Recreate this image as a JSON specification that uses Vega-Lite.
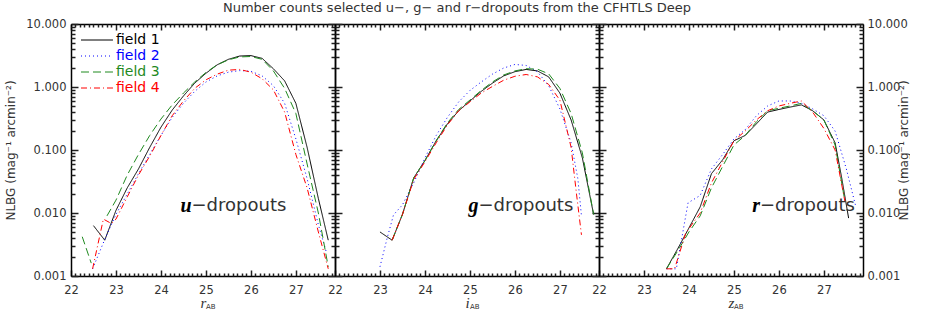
{
  "$schema": "https://vega.github.io/schema/vega-lite/v6.json",
  "padding": {"left": 4, "top": 2, "right": 0, "bottom": 0},
  "autosize": {"type": "pad"},
  "bounds": "flush",
  "spacing": 0,
  "title": {"text": "Number counts selected u−, g− and r−dropouts from the CFHTLS Deep", "font": "DejaVu Sans", "fontSize": 13, "fontWeight": "normal", "color": "#333", "offset": 3, "anchor": "middle"},
  "config": {
    "view": {"stroke": null},
    "axis": {"domainColor": "black", "domainWidth": 1.5, "grid": false, "ticks": true, "tickColor": "#202020", "tickWidth": 1.5, "labelFont": "DejaVu Sans", "labelFontSize": 11.5, "labelColor": "#333", "titleFont": "DejaVu Sans", "titleFontSize": 12, "titleFontWeight": "normal", "titleColor": "#333", "labelOverlap": false, "labelFlush": false, "labelBound": false}
  },
  "resolve": {"legend": {"color": "independent", "strokeDash": "independent"}},
  "datasets": {
    "counts": [
      {"panel":"u","field":"field 1","seg":1,"mag":22.5,"n":0.0063},
      {"panel":"u","field":"field 1","seg":1,"mag":22.75,"n":0.0037},
      {"panel":"u","field":"field 1","seg":1,"mag":23.0,"n":0.011},
      {"panel":"u","field":"field 1","seg":1,"mag":23.25,"n":0.025},
      {"panel":"u","field":"field 1","seg":1,"mag":23.5,"n":0.05},
      {"panel":"u","field":"field 1","seg":1,"mag":23.75,"n":0.11},
      {"panel":"u","field":"field 1","seg":1,"mag":24.0,"n":0.23},
      {"panel":"u","field":"field 1","seg":1,"mag":24.25,"n":0.43},
      {"panel":"u","field":"field 1","seg":1,"mag":24.5,"n":0.72},
      {"panel":"u","field":"field 1","seg":1,"mag":24.75,"n":1.15},
      {"panel":"u","field":"field 1","seg":1,"mag":25.0,"n":1.65},
      {"panel":"u","field":"field 1","seg":1,"mag":25.25,"n":2.25},
      {"panel":"u","field":"field 1","seg":1,"mag":25.5,"n":2.75},
      {"panel":"u","field":"field 1","seg":1,"mag":25.75,"n":3.1},
      {"panel":"u","field":"field 1","seg":1,"mag":26.0,"n":3.15},
      {"panel":"u","field":"field 1","seg":1,"mag":26.25,"n":2.85},
      {"panel":"u","field":"field 1","seg":1,"mag":26.5,"n":1.95},
      {"panel":"u","field":"field 1","seg":1,"mag":26.75,"n":1.25},
      {"panel":"u","field":"field 1","seg":1,"mag":27.0,"n":0.55},
      {"panel":"u","field":"field 1","seg":1,"mag":27.25,"n":0.11},
      {"panel":"u","field":"field 1","seg":1,"mag":27.5,"n":0.017},
      {"panel":"u","field":"field 1","seg":1,"mag":27.72,"n":0.0037},
      {"panel":"u","field":"field 2","seg":1,"mag":22.48,"n":0.0013},
      {"panel":"u","field":"field 2","seg":1,"mag":22.75,"n":0.0038},
      {"panel":"u","field":"field 2","seg":1,"mag":23.0,"n":0.0095},
      {"panel":"u","field":"field 2","seg":1,"mag":23.25,"n":0.02},
      {"panel":"u","field":"field 2","seg":1,"mag":23.5,"n":0.042},
      {"panel":"u","field":"field 2","seg":1,"mag":23.75,"n":0.085},
      {"panel":"u","field":"field 2","seg":1,"mag":24.0,"n":0.17},
      {"panel":"u","field":"field 2","seg":1,"mag":24.25,"n":0.33},
      {"panel":"u","field":"field 2","seg":1,"mag":24.5,"n":0.55},
      {"panel":"u","field":"field 2","seg":1,"mag":24.75,"n":0.85},
      {"panel":"u","field":"field 2","seg":1,"mag":25.0,"n":1.2},
      {"panel":"u","field":"field 2","seg":1,"mag":25.25,"n":1.5},
      {"panel":"u","field":"field 2","seg":1,"mag":25.5,"n":1.72},
      {"panel":"u","field":"field 2","seg":1,"mag":25.75,"n":1.82},
      {"panel":"u","field":"field 2","seg":1,"mag":26.0,"n":1.78},
      {"panel":"u","field":"field 2","seg":1,"mag":26.25,"n":1.5},
      {"panel":"u","field":"field 2","seg":1,"mag":26.5,"n":1.05},
      {"panel":"u","field":"field 2","seg":1,"mag":26.75,"n":0.55},
      {"panel":"u","field":"field 2","seg":1,"mag":27.0,"n":0.15},
      {"panel":"u","field":"field 2","seg":1,"mag":27.25,"n":0.035},
      {"panel":"u","field":"field 2","seg":1,"mag":27.5,"n":0.0065},
      {"panel":"u","field":"field 2","seg":1,"mag":27.67,"n":0.0025},
      {"panel":"u","field":"field 3","seg":1,"mag":22.25,"n":0.0042},
      {"panel":"u","field":"field 3","seg":1,"mag":22.45,"n":0.0016},
      {"panel":"u","field":"field 3","seg":2,"mag":22.8,"n":0.009},
      {"panel":"u","field":"field 3","seg":2,"mag":23.0,"n":0.016},
      {"panel":"u","field":"field 3","seg":2,"mag":23.25,"n":0.04},
      {"panel":"u","field":"field 3","seg":2,"mag":23.5,"n":0.085},
      {"panel":"u","field":"field 3","seg":2,"mag":23.75,"n":0.17},
      {"panel":"u","field":"field 3","seg":2,"mag":24.0,"n":0.31},
      {"panel":"u","field":"field 3","seg":2,"mag":24.25,"n":0.52},
      {"panel":"u","field":"field 3","seg":2,"mag":24.5,"n":0.8},
      {"panel":"u","field":"field 3","seg":2,"mag":24.75,"n":1.2},
      {"panel":"u","field":"field 3","seg":2,"mag":25.0,"n":1.7},
      {"panel":"u","field":"field 3","seg":2,"mag":25.25,"n":2.25},
      {"panel":"u","field":"field 3","seg":2,"mag":25.5,"n":2.7},
      {"panel":"u","field":"field 3","seg":2,"mag":25.75,"n":3.0},
      {"panel":"u","field":"field 3","seg":2,"mag":26.0,"n":3.05},
      {"panel":"u","field":"field 3","seg":2,"mag":26.25,"n":2.75},
      {"panel":"u","field":"field 3","seg":2,"mag":26.5,"n":1.8},
      {"panel":"u","field":"field 3","seg":2,"mag":26.75,"n":0.95},
      {"panel":"u","field":"field 3","seg":2,"mag":27.0,"n":0.38},
      {"panel":"u","field":"field 3","seg":2,"mag":27.25,"n":0.06},
      {"panel":"u","field":"field 3","seg":2,"mag":27.5,"n":0.01},
      {"panel":"u","field":"field 3","seg":2,"mag":27.72,"n":0.0014},
      {"panel":"u","field":"field 4","seg":1,"mag":22.48,"n":0.0013},
      {"panel":"u","field":"field 4","seg":1,"mag":22.72,"n":0.008},
      {"panel":"u","field":"field 4","seg":1,"mag":22.9,"n":0.0068},
      {"panel":"u","field":"field 4","seg":1,"mag":23.0,"n":0.008},
      {"panel":"u","field":"field 4","seg":1,"mag":23.25,"n":0.018},
      {"panel":"u","field":"field 4","seg":1,"mag":23.5,"n":0.04},
      {"panel":"u","field":"field 4","seg":1,"mag":23.75,"n":0.08},
      {"panel":"u","field":"field 4","seg":1,"mag":24.0,"n":0.17},
      {"panel":"u","field":"field 4","seg":1,"mag":24.25,"n":0.35},
      {"panel":"u","field":"field 4","seg":1,"mag":24.5,"n":0.6},
      {"panel":"u","field":"field 4","seg":1,"mag":24.75,"n":0.95},
      {"panel":"u","field":"field 4","seg":1,"mag":25.0,"n":1.3},
      {"panel":"u","field":"field 4","seg":1,"mag":25.25,"n":1.6},
      {"panel":"u","field":"field 4","seg":1,"mag":25.5,"n":1.85},
      {"panel":"u","field":"field 4","seg":1,"mag":25.75,"n":1.9},
      {"panel":"u","field":"field 4","seg":1,"mag":26.0,"n":1.72},
      {"panel":"u","field":"field 4","seg":1,"mag":26.25,"n":1.35},
      {"panel":"u","field":"field 4","seg":1,"mag":26.5,"n":0.9},
      {"panel":"u","field":"field 4","seg":1,"mag":26.75,"n":0.4},
      {"panel":"u","field":"field 4","seg":1,"mag":27.0,"n":0.085},
      {"panel":"u","field":"field 4","seg":1,"mag":27.25,"n":0.025},
      {"panel":"u","field":"field 4","seg":1,"mag":27.5,"n":0.005},
      {"panel":"u","field":"field 4","seg":1,"mag":27.72,"n":0.0013},
      {"panel":"g","field":"field 1","seg":1,"mag":23.0,"n":0.005},
      {"panel":"g","field":"field 1","seg":1,"mag":23.27,"n":0.0037},
      {"panel":"g","field":"field 1","seg":1,"mag":23.5,"n":0.0095},
      {"panel":"g","field":"field 1","seg":1,"mag":23.75,"n":0.036},
      {"panel":"g","field":"field 1","seg":1,"mag":24.0,"n":0.068},
      {"panel":"g","field":"field 1","seg":1,"mag":24.25,"n":0.14},
      {"panel":"g","field":"field 1","seg":1,"mag":24.5,"n":0.26},
      {"panel":"g","field":"field 1","seg":1,"mag":24.75,"n":0.42},
      {"panel":"g","field":"field 1","seg":1,"mag":25.0,"n":0.6},
      {"panel":"g","field":"field 1","seg":1,"mag":25.25,"n":0.85},
      {"panel":"g","field":"field 1","seg":1,"mag":25.5,"n":1.15},
      {"panel":"g","field":"field 1","seg":1,"mag":25.75,"n":1.5},
      {"panel":"g","field":"field 1","seg":1,"mag":26.0,"n":1.75},
      {"panel":"g","field":"field 1","seg":1,"mag":26.25,"n":1.9},
      {"panel":"g","field":"field 1","seg":1,"mag":26.5,"n":1.8},
      {"panel":"g","field":"field 1","seg":1,"mag":26.75,"n":1.45},
      {"panel":"g","field":"field 1","seg":1,"mag":27.0,"n":0.8},
      {"panel":"g","field":"field 1","seg":1,"mag":27.25,"n":0.3},
      {"panel":"g","field":"field 1","seg":1,"mag":27.5,"n":0.075},
      {"panel":"g","field":"field 1","seg":1,"mag":27.75,"n":0.0095},
      {"panel":"g","field":"field 2","seg":1,"mag":23.0,"n":0.0014},
      {"panel":"g","field":"field 2","seg":1,"mag":23.16,"n":0.004},
      {"panel":"g","field":"field 2","seg":1,"mag":23.3,"n":0.0093},
      {"panel":"g","field":"field 2","seg":1,"mag":23.5,"n":0.0135},
      {"panel":"g","field":"field 2","seg":1,"mag":23.75,"n":0.03},
      {"panel":"g","field":"field 2","seg":1,"mag":24.0,"n":0.075},
      {"panel":"g","field":"field 2","seg":1,"mag":24.25,"n":0.17},
      {"panel":"g","field":"field 2","seg":1,"mag":24.5,"n":0.33},
      {"panel":"g","field":"field 2","seg":1,"mag":24.75,"n":0.58},
      {"panel":"g","field":"field 2","seg":1,"mag":25.0,"n":0.88},
      {"panel":"g","field":"field 2","seg":1,"mag":25.25,"n":1.2},
      {"panel":"g","field":"field 2","seg":1,"mag":25.5,"n":1.6},
      {"panel":"g","field":"field 2","seg":1,"mag":25.75,"n":2.0},
      {"panel":"g","field":"field 2","seg":1,"mag":26.0,"n":2.28},
      {"panel":"g","field":"field 2","seg":1,"mag":26.25,"n":2.2},
      {"panel":"g","field":"field 2","seg":1,"mag":26.5,"n":1.75},
      {"panel":"g","field":"field 2","seg":1,"mag":26.75,"n":1.05},
      {"panel":"g","field":"field 2","seg":1,"mag":27.0,"n":0.45},
      {"panel":"g","field":"field 2","seg":1,"mag":27.25,"n":0.13},
      {"panel":"g","field":"field 2","seg":1,"mag":27.4,"n":0.035},
      {"panel":"g","field":"field 2","seg":1,"mag":27.48,"n":0.009},
      {"panel":"g","field":"field 3","seg":1,"mag":23.27,"n":0.0037},
      {"panel":"g","field":"field 3","seg":1,"mag":23.5,"n":0.0095},
      {"panel":"g","field":"field 3","seg":1,"mag":23.75,"n":0.036},
      {"panel":"g","field":"field 3","seg":1,"mag":24.0,"n":0.068},
      {"panel":"g","field":"field 3","seg":1,"mag":24.25,"n":0.14},
      {"panel":"g","field":"field 3","seg":1,"mag":24.5,"n":0.27},
      {"panel":"g","field":"field 3","seg":1,"mag":24.75,"n":0.44},
      {"panel":"g","field":"field 3","seg":1,"mag":25.0,"n":0.62},
      {"panel":"g","field":"field 3","seg":1,"mag":25.25,"n":0.88},
      {"panel":"g","field":"field 3","seg":1,"mag":25.5,"n":1.2},
      {"panel":"g","field":"field 3","seg":1,"mag":25.75,"n":1.55},
      {"panel":"g","field":"field 3","seg":1,"mag":26.0,"n":1.8},
      {"panel":"g","field":"field 3","seg":1,"mag":26.25,"n":1.95},
      {"panel":"g","field":"field 3","seg":1,"mag":26.5,"n":1.92},
      {"panel":"g","field":"field 3","seg":1,"mag":26.75,"n":1.62},
      {"panel":"g","field":"field 3","seg":1,"mag":27.0,"n":0.95},
      {"panel":"g","field":"field 3","seg":1,"mag":27.25,"n":0.38},
      {"panel":"g","field":"field 3","seg":1,"mag":27.5,"n":0.09},
      {"panel":"g","field":"field 3","seg":1,"mag":27.75,"n":0.0095},
      {"panel":"g","field":"field 4","seg":1,"mag":23.27,"n":0.0037},
      {"panel":"g","field":"field 4","seg":1,"mag":23.5,"n":0.0095},
      {"panel":"g","field":"field 4","seg":1,"mag":23.75,"n":0.034},
      {"panel":"g","field":"field 4","seg":1,"mag":24.0,"n":0.065},
      {"panel":"g","field":"field 4","seg":1,"mag":24.25,"n":0.13},
      {"panel":"g","field":"field 4","seg":1,"mag":24.5,"n":0.25},
      {"panel":"g","field":"field 4","seg":1,"mag":24.75,"n":0.42},
      {"panel":"g","field":"field 4","seg":1,"mag":25.0,"n":0.58},
      {"panel":"g","field":"field 4","seg":1,"mag":25.25,"n":0.8},
      {"panel":"g","field":"field 4","seg":1,"mag":25.5,"n":1.02},
      {"panel":"g","field":"field 4","seg":1,"mag":25.75,"n":1.28},
      {"panel":"g","field":"field 4","seg":1,"mag":26.0,"n":1.48},
      {"panel":"g","field":"field 4","seg":1,"mag":26.25,"n":1.58},
      {"panel":"g","field":"field 4","seg":1,"mag":26.5,"n":1.45},
      {"panel":"g","field":"field 4","seg":1,"mag":26.75,"n":1.1},
      {"panel":"g","field":"field 4","seg":1,"mag":27.0,"n":0.62},
      {"panel":"g","field":"field 4","seg":1,"mag":27.25,"n":0.11},
      {"panel":"g","field":"field 4","seg":1,"mag":27.37,"n":0.02},
      {"panel":"g","field":"field 4","seg":1,"mag":27.48,"n":0.0045},
      {"panel":"r","field":"field 1","seg":1,"mag":23.5,"n":0.0013},
      {"panel":"r","field":"field 1","seg":1,"mag":23.75,"n":0.0027},
      {"panel":"r","field":"field 1","seg":1,"mag":24.0,"n":0.0058},
      {"panel":"r","field":"field 1","seg":1,"mag":24.25,"n":0.0125},
      {"panel":"r","field":"field 1","seg":1,"mag":24.5,"n":0.042},
      {"panel":"r","field":"field 1","seg":1,"mag":24.75,"n":0.07},
      {"panel":"r","field":"field 1","seg":1,"mag":25.0,"n":0.14},
      {"panel":"r","field":"field 1","seg":1,"mag":25.25,"n":0.17},
      {"panel":"r","field":"field 1","seg":1,"mag":25.5,"n":0.26},
      {"panel":"r","field":"field 1","seg":1,"mag":25.75,"n":0.4},
      {"panel":"r","field":"field 1","seg":1,"mag":26.0,"n":0.44},
      {"panel":"r","field":"field 1","seg":1,"mag":26.25,"n":0.48},
      {"panel":"r","field":"field 1","seg":1,"mag":26.5,"n":0.52},
      {"panel":"r","field":"field 1","seg":1,"mag":26.75,"n":0.42},
      {"panel":"r","field":"field 1","seg":1,"mag":27.0,"n":0.3},
      {"panel":"r","field":"field 1","seg":1,"mag":27.25,"n":0.13},
      {"panel":"r","field":"field 1","seg":1,"mag":27.4,"n":0.035},
      {"panel":"r","field":"field 1","seg":1,"mag":27.55,"n":0.0083},
      {"panel":"r","field":"field 2","seg":1,"mag":23.5,"n":0.0013},
      {"panel":"r","field":"field 2","seg":1,"mag":23.72,"n":0.0013},
      {"panel":"r","field":"field 2","seg":1,"mag":23.98,"n":0.0145},
      {"panel":"r","field":"field 2","seg":1,"mag":24.25,"n":0.019},
      {"panel":"r","field":"field 2","seg":1,"mag":24.5,"n":0.05},
      {"panel":"r","field":"field 2","seg":1,"mag":24.75,"n":0.085},
      {"panel":"r","field":"field 2","seg":1,"mag":25.0,"n":0.15},
      {"panel":"r","field":"field 2","seg":1,"mag":25.25,"n":0.21},
      {"panel":"r","field":"field 2","seg":1,"mag":25.5,"n":0.35},
      {"panel":"r","field":"field 2","seg":1,"mag":25.75,"n":0.5},
      {"panel":"r","field":"field 2","seg":1,"mag":26.0,"n":0.6},
      {"panel":"r","field":"field 2","seg":1,"mag":26.25,"n":0.6},
      {"panel":"r","field":"field 2","seg":1,"mag":26.5,"n":0.55},
      {"panel":"r","field":"field 2","seg":1,"mag":26.75,"n":0.45},
      {"panel":"r","field":"field 2","seg":1,"mag":27.0,"n":0.35},
      {"panel":"r","field":"field 2","seg":1,"mag":27.25,"n":0.2},
      {"panel":"r","field":"field 2","seg":1,"mag":27.5,"n":0.05},
      {"panel":"r","field":"field 2","seg":1,"mag":27.7,"n":0.0135},
      {"panel":"r","field":"field 3","seg":1,"mag":23.5,"n":0.0013},
      {"panel":"r","field":"field 3","seg":1,"mag":23.75,"n":0.0025},
      {"panel":"r","field":"field 3","seg":1,"mag":24.0,"n":0.005},
      {"panel":"r","field":"field 3","seg":1,"mag":24.25,"n":0.009},
      {"panel":"r","field":"field 3","seg":1,"mag":24.5,"n":0.025},
      {"panel":"r","field":"field 3","seg":1,"mag":24.75,"n":0.055},
      {"panel":"r","field":"field 3","seg":1,"mag":25.0,"n":0.12},
      {"panel":"r","field":"field 3","seg":1,"mag":25.25,"n":0.17},
      {"panel":"r","field":"field 3","seg":1,"mag":25.5,"n":0.28},
      {"panel":"r","field":"field 3","seg":1,"mag":25.75,"n":0.42},
      {"panel":"r","field":"field 3","seg":1,"mag":26.0,"n":0.46},
      {"panel":"r","field":"field 3","seg":1,"mag":26.25,"n":0.5},
      {"panel":"r","field":"field 3","seg":1,"mag":26.5,"n":0.55},
      {"panel":"r","field":"field 3","seg":1,"mag":26.75,"n":0.42},
      {"panel":"r","field":"field 3","seg":1,"mag":27.0,"n":0.3},
      {"panel":"r","field":"field 3","seg":1,"mag":27.25,"n":0.12},
      {"panel":"r","field":"field 3","seg":1,"mag":27.47,"n":0.015},
      {"panel":"r","field":"field 4","seg":1,"mag":23.5,"n":0.0013},
      {"panel":"r","field":"field 4","seg":1,"mag":23.68,"n":0.0013},
      {"panel":"r","field":"field 4","seg":1,"mag":23.93,"n":0.0048},
      {"panel":"r","field":"field 4","seg":1,"mag":24.25,"n":0.01},
      {"panel":"r","field":"field 4","seg":1,"mag":24.5,"n":0.03},
      {"panel":"r","field":"field 4","seg":1,"mag":24.75,"n":0.065},
      {"panel":"r","field":"field 4","seg":1,"mag":25.0,"n":0.14},
      {"panel":"r","field":"field 4","seg":1,"mag":25.25,"n":0.2},
      {"panel":"r","field":"field 4","seg":1,"mag":25.5,"n":0.3},
      {"panel":"r","field":"field 4","seg":1,"mag":25.75,"n":0.42},
      {"panel":"r","field":"field 4","seg":1,"mag":26.0,"n":0.5},
      {"panel":"r","field":"field 4","seg":1,"mag":26.25,"n":0.55},
      {"panel":"r","field":"field 4","seg":1,"mag":26.5,"n":0.6},
      {"panel":"r","field":"field 4","seg":1,"mag":26.75,"n":0.4},
      {"panel":"r","field":"field 4","seg":1,"mag":27.0,"n":0.22},
      {"panel":"r","field":"field 4","seg":1,"mag":27.25,"n":0.1},
      {"panel":"r","field":"field 4","seg":1,"mag":27.47,"n":0.015}
    ]
  },
  "hconcat": [
    {
      "width": 264, "height": 252,
      "layer": [
        {
          "data": {"name": "counts"},
          "transform": [{"filter": "datum.panel === 'u'"}],
          "mark": {"type": "line", "strokeWidth": 1},
          "encoding": {
            "x": {"field": "mag", "type": "quantitative", "scale": {"domain": [22, 27.87], "nice": false, "zero": false},
              "axis": {"orient": "bottom", "values": [22,23,24,25,26,27], "format": "d", "tickSize": -6,
                "labelPadding": 14, "title": "r", "titleFont": "Liberation Serif", "titleFontStyle": "italic", "titleFontSize": 15, "titlePadding": 0}},
            "y": {"field": "n", "type": "quantitative", "scale": {"type": "log", "domain": [0.001, 10], "nice": false},
              "axis": {"orient": "left", "values": [0.001,0.01,0.1,1,10], "format": ".3f", "tickSize": -7,
                "labelPadding": 12, "title": "NLBG (mag⁻¹ arcmin⁻²)", "titlePadding": 8}},
            "color": {"field": "field", "type": "nominal", "scale": {"domain": ["field 1","field 2","field 3","field 4"], "range": ["#000000","#0000ff","#1f8a1f","#ff0000"]},
              "legend": {"orient": "top-left", "title": null, "offset": 9, "padding": 0, "symbolType": "M-1,0H4.33", "symbolSize": 144, "symbolStrokeWidth": 1, "labelFont": "DejaVu Sans", "labelFontSize": 14, "labelOffset": 22, "rowPadding": 2, "encode": {"labels": {"update": {"fill": {"scale": "color", "field": "value"}}}}}},
            "strokeDash": {"field": "field", "type": "nominal", "scale": {"domain": ["field 1","field 2","field 3","field 4"], "range": [[1,0],[1,3],[8,4],[6,3,1,3]]},
              "legend": {"orient": "top-left", "title": null, "offset": 9, "padding": 0, "symbolType": "M-1,0H4.33", "symbolSize": 144, "symbolStrokeWidth": 1, "labelFont": "DejaVu Sans", "labelFontSize": 14, "labelOffset": 22, "rowPadding": 2, "encode": {"labels": {"update": {"fill": {"scale": "color", "field": "value"}}}}}},
            "detail": {"field": "seg", "type": "nominal"}
          }
        },
        {
          "data": {"values": [{"t": "u"}]},
          "mark": {"type": "text", "align": "right", "baseline": "middle", "font": "Liberation Serif", "fontStyle": "italic", "fontWeight": "bold", "fontSize": 20},
          "encoding": {
            "x": {"datum": 24.68, "type": "quantitative", "scale": {"domain": [22, 27.87], "nice": false, "zero": false},
              "axis": {"orient": "top", "values": [22,23,24,25,26,27], "labels": false, "title": null, "tickSize": -6}},
            "y": {"datum": 0.013, "type": "quantitative", "scale": {"type": "log", "domain": [0.001, 10], "nice": false},
              "axis": {"orient": "right", "values": [0.001,0.01,0.1,1,10], "labels": false, "title": null, "tickSize": -7}},
            "text": {"field": "t"}
          }
        },
        {
          "data": {"values": [{"t": "−dropouts"}]},
          "mark": {"type": "text", "align": "left", "baseline": "middle", "font": "DejaVu Sans", "fontSize": 18, "color": "#333"},
          "encoding": {
            "x": {"datum": 24.68, "type": "quantitative", "scale": {"domain": [22, 27.87], "nice": false, "zero": false},
              "axis": {"orient": "bottom", "values": [22.1,22.2,22.3,22.4,22.5,22.6,22.7,22.8,22.9,23.1,23.2,23.3,23.4,23.5,23.6,23.7,23.8,23.9,24.1,24.2,24.3,24.4,24.5,24.6,24.7,24.8,24.9,25.1,25.2,25.3,25.4,25.5,25.6,25.7,25.8,25.9,26.1,26.2,26.3,26.4,26.5,26.6,26.7,26.8,26.9,27.1,27.2,27.3,27.4,27.5,27.6,27.7,27.8], "labels": false, "domain": false, "title": null, "tickSize": -3}},
            "y": {"datum": 0.013, "type": "quantitative", "scale": {"type": "log", "domain": [0.001, 10], "nice": false},
              "axis": {"orient": "left", "values": [0.002,0.003,0.004,0.005,0.006,0.007,0.008,0.009,0.02,0.03,0.04,0.05,0.06,0.07,0.08,0.09,0.2,0.3,0.4,0.5,0.6,0.7,0.8,0.9,2,3,4,5,6,7,8,9], "labels": false, "domain": false, "title": null, "tickSize": -4}},
            "text": {"field": "t"}
          }
        },
        {
          "data": {"values": [{"t": "AB"}]},
          "mark": {"type": "text", "align": "left", "baseline": "middle", "font": "DejaVu Sans", "fontSize": 7, "color": "#333", "dy": 31},
          "encoding": {
            "x": {"datum": 25.0, "type": "quantitative", "scale": {"domain": [22, 27.87], "nice": false, "zero": false},
              "axis": {"orient": "top", "values": [22.1,22.2,22.3,22.4,22.5,22.6,22.7,22.8,22.9,23.1,23.2,23.3,23.4,23.5,23.6,23.7,23.8,23.9,24.1,24.2,24.3,24.4,24.5,24.6,24.7,24.8,24.9,25.1,25.2,25.3,25.4,25.5,25.6,25.7,25.8,25.9,26.1,26.2,26.3,26.4,26.5,26.6,26.7,26.8,26.9,27.1,27.2,27.3,27.4,27.5,27.6,27.7,27.8], "labels": false, "domain": false, "title": null, "tickSize": -3}},
            "y": {"datum": 0.001, "type": "quantitative", "scale": {"type": "log", "domain": [0.001, 10], "nice": false},
              "axis": {"orient": "right", "values": [0.002,0.003,0.004,0.005,0.006,0.007,0.008,0.009,0.02,0.03,0.04,0.05,0.06,0.07,0.08,0.09,0.2,0.3,0.4,0.5,0.6,0.7,0.8,0.9,2,3,4,5,6,7,8,9], "labels": false, "domain": false, "title": null, "tickSize": -4}},
            "text": {"field": "t"}
          }
        }
      ],
      "resolve": {"axis": {"x": "independent", "y": "independent"}}
    },
    {
      "width": 264, "height": 252,
      "layer": [
        {
          "data": {"name": "counts"},
          "transform": [{"filter": "datum.panel === 'g'"}],
          "mark": {"type": "line", "strokeWidth": 1},
          "encoding": {
            "x": {"field": "mag", "type": "quantitative", "scale": {"domain": [22, 27.87], "nice": false, "zero": false},
              "axis": {"orient": "bottom", "values": [22,23,24,25,26,27], "format": "d", "tickSize": -6,
                "labelPadding": 14, "title": "i", "titleFont": "Liberation Serif", "titleFontStyle": "italic", "titleFontSize": 15, "titlePadding": 0}},
            "y": {"field": "n", "type": "quantitative", "scale": {"type": "log", "domain": [0.001, 10], "nice": false},
              "axis": {"orient": "left", "values": [0.001,0.01,0.1,1,10], "labels": false, "title": null, "tickSize": -7}},
            "color": {"field": "field", "type": "nominal", "scale": {"domain": ["field 1","field 2","field 3","field 4"], "range": ["#000000","#0000ff","#1f8a1f","#ff0000"]}, "legend": null},
            "strokeDash": {"field": "field", "type": "nominal", "scale": {"domain": ["field 1","field 2","field 3","field 4"], "range": [[1,0],[1,3],[8,4],[6,3,1,3]]}, "legend": null},
            "detail": {"field": "seg", "type": "nominal"}
          }
        },
        {
          "data": {"values": [{"t": "g"}]},
          "mark": {"type": "text", "align": "right", "baseline": "middle", "font": "Liberation Serif", "fontStyle": "italic", "fontWeight": "bold", "fontSize": 20},
          "encoding": {
            "x": {"datum": 25.19, "type": "quantitative", "scale": {"domain": [22, 27.87], "nice": false, "zero": false},
              "axis": {"orient": "top", "values": [22,23,24,25,26,27], "labels": false, "title": null, "tickSize": -6}},
            "y": {"datum": 0.013, "type": "quantitative", "scale": {"type": "log", "domain": [0.001, 10], "nice": false},
              "axis": {"orient": "right", "values": [0.001,0.01,0.1,1,10], "labels": false, "title": null, "tickSize": -7}},
            "text": {"field": "t"}
          }
        },
        {
          "data": {"values": [{"t": "−dropouts"}]},
          "mark": {"type": "text", "align": "left", "baseline": "middle", "font": "DejaVu Sans", "fontSize": 18, "color": "#333"},
          "encoding": {
            "x": {"datum": 25.19, "type": "quantitative", "scale": {"domain": [22, 27.87], "nice": false, "zero": false},
              "axis": {"orient": "bottom", "values": [22.1,22.2,22.3,22.4,22.5,22.6,22.7,22.8,22.9,23.1,23.2,23.3,23.4,23.5,23.6,23.7,23.8,23.9,24.1,24.2,24.3,24.4,24.5,24.6,24.7,24.8,24.9,25.1,25.2,25.3,25.4,25.5,25.6,25.7,25.8,25.9,26.1,26.2,26.3,26.4,26.5,26.6,26.7,26.8,26.9,27.1,27.2,27.3,27.4,27.5,27.6,27.7,27.8], "labels": false, "domain": false, "title": null, "tickSize": -3}},
            "y": {"datum": 0.013, "type": "quantitative", "scale": {"type": "log", "domain": [0.001, 10], "nice": false},
              "axis": {"orient": "left", "values": [0.002,0.003,0.004,0.005,0.006,0.007,0.008,0.009,0.02,0.03,0.04,0.05,0.06,0.07,0.08,0.09,0.2,0.3,0.4,0.5,0.6,0.7,0.8,0.9,2,3,4,5,6,7,8,9], "labels": false, "domain": false, "title": null, "tickSize": -4}},
            "text": {"field": "t"}
          }
        },
        {
          "data": {"values": [{"t": "AB"}]},
          "mark": {"type": "text", "align": "left", "baseline": "middle", "font": "DejaVu Sans", "fontSize": 7, "color": "#333", "dy": 31},
          "encoding": {
            "x": {"datum": 25.0, "type": "quantitative", "scale": {"domain": [22, 27.87], "nice": false, "zero": false},
              "axis": {"orient": "top", "values": [22.1,22.2,22.3,22.4,22.5,22.6,22.7,22.8,22.9,23.1,23.2,23.3,23.4,23.5,23.6,23.7,23.8,23.9,24.1,24.2,24.3,24.4,24.5,24.6,24.7,24.8,24.9,25.1,25.2,25.3,25.4,25.5,25.6,25.7,25.8,25.9,26.1,26.2,26.3,26.4,26.5,26.6,26.7,26.8,26.9,27.1,27.2,27.3,27.4,27.5,27.6,27.7,27.8], "labels": false, "domain": false, "title": null, "tickSize": -3}},
            "y": {"datum": 0.001, "type": "quantitative", "scale": {"type": "log", "domain": [0.001, 10], "nice": false},
              "axis": {"orient": "right", "values": [0.002,0.003,0.004,0.005,0.006,0.007,0.008,0.009,0.02,0.03,0.04,0.05,0.06,0.07,0.08,0.09,0.2,0.3,0.4,0.5,0.6,0.7,0.8,0.9,2,3,4,5,6,7,8,9], "labels": false, "domain": false, "title": null, "tickSize": -4}},
            "text": {"field": "t"}
          }
        }
      ],
      "resolve": {"axis": {"x": "independent", "y": "independent"}}
    },
    {
      "width": 264, "height": 252,
      "layer": [
        {
          "data": {"name": "counts"},
          "transform": [{"filter": "datum.panel === 'r'"}],
          "mark": {"type": "line", "strokeWidth": 1},
          "encoding": {
            "x": {"field": "mag", "type": "quantitative", "scale": {"domain": [22, 27.87], "nice": false, "zero": false},
              "axis": {"orient": "bottom", "values": [22,23,24,25,26,27], "format": "d", "tickSize": -6,
                "labelPadding": 14, "title": "z", "titleFont": "Liberation Serif", "titleFontStyle": "italic", "titleFontSize": 15, "titlePadding": 0}},
            "y": {"field": "n", "type": "quantitative", "scale": {"type": "log", "domain": [0.001, 10], "nice": false},
              "axis": {"orient": "left", "values": [0.001,0.01,0.1,1,10], "labels": false, "title": null, "tickSize": -7}},
            "color": {"field": "field", "type": "nominal", "scale": {"domain": ["field 1","field 2","field 3","field 4"], "range": ["#000000","#0000ff","#1f8a1f","#ff0000"]}, "legend": null},
            "strokeDash": {"field": "field", "type": "nominal", "scale": {"domain": ["field 1","field 2","field 3","field 4"], "range": [[1,0],[1,3],[8,4],[6,3,1,3]]}, "legend": null},
            "detail": {"field": "seg", "type": "nominal"}
          }
        },
        {
          "data": {"values": [{"t": "r"}]},
          "mark": {"type": "text", "align": "right", "baseline": "middle", "font": "Liberation Serif", "fontStyle": "italic", "fontWeight": "bold", "fontSize": 20},
          "encoding": {
            "x": {"datum": 25.58, "type": "quantitative", "scale": {"domain": [22, 27.87], "nice": false, "zero": false},
              "axis": {"orient": "top", "values": [22,23,24,25,26,27], "labels": false, "title": null, "tickSize": -6}},
            "y": {"datum": 0.013, "type": "quantitative", "scale": {"type": "log", "domain": [0.001, 10], "nice": false},
              "axis": {"orient": "right", "values": [0.001,0.01,0.1,1,10], "format": ".3f", "tickSize": -7,
                "labelPadding": 11, "title": "NLBG (mag⁻¹ arcmin⁻²)", "titleAngle": 270, "titlePadding": 3}},
            "text": {"field": "t"}
          }
        },
        {
          "data": {"values": [{"t": "−dropouts"}]},
          "mark": {"type": "text", "align": "left", "baseline": "middle", "font": "DejaVu Sans", "fontSize": 18, "color": "#333"},
          "encoding": {
            "x": {"datum": 25.58, "type": "quantitative", "scale": {"domain": [22, 27.87], "nice": false, "zero": false},
              "axis": {"orient": "bottom", "values": [22.1,22.2,22.3,22.4,22.5,22.6,22.7,22.8,22.9,23.1,23.2,23.3,23.4,23.5,23.6,23.7,23.8,23.9,24.1,24.2,24.3,24.4,24.5,24.6,24.7,24.8,24.9,25.1,25.2,25.3,25.4,25.5,25.6,25.7,25.8,25.9,26.1,26.2,26.3,26.4,26.5,26.6,26.7,26.8,26.9,27.1,27.2,27.3,27.4,27.5,27.6,27.7,27.8], "labels": false, "domain": false, "title": null, "tickSize": -3}},
            "y": {"datum": 0.013, "type": "quantitative", "scale": {"type": "log", "domain": [0.001, 10], "nice": false},
              "axis": {"orient": "left", "values": [0.002,0.003,0.004,0.005,0.006,0.007,0.008,0.009,0.02,0.03,0.04,0.05,0.06,0.07,0.08,0.09,0.2,0.3,0.4,0.5,0.6,0.7,0.8,0.9,2,3,4,5,6,7,8,9], "labels": false, "domain": false, "title": null, "tickSize": -4}},
            "text": {"field": "t"}
          }
        },
        {
          "data": {"values": [{"t": "AB"}]},
          "mark": {"type": "text", "align": "left", "baseline": "middle", "font": "DejaVu Sans", "fontSize": 7, "color": "#333", "dy": 31},
          "encoding": {
            "x": {"datum": 25.0, "type": "quantitative", "scale": {"domain": [22, 27.87], "nice": false, "zero": false},
              "axis": {"orient": "top", "values": [22.1,22.2,22.3,22.4,22.5,22.6,22.7,22.8,22.9,23.1,23.2,23.3,23.4,23.5,23.6,23.7,23.8,23.9,24.1,24.2,24.3,24.4,24.5,24.6,24.7,24.8,24.9,25.1,25.2,25.3,25.4,25.5,25.6,25.7,25.8,25.9,26.1,26.2,26.3,26.4,26.5,26.6,26.7,26.8,26.9,27.1,27.2,27.3,27.4,27.5,27.6,27.7,27.8], "labels": false, "domain": false, "title": null, "tickSize": -3}},
            "y": {"datum": 0.001, "type": "quantitative", "scale": {"type": "log", "domain": [0.001, 10], "nice": false},
              "axis": {"orient": "right", "values": [0.002,0.003,0.004,0.005,0.006,0.007,0.008,0.009,0.02,0.03,0.04,0.05,0.06,0.07,0.08,0.09,0.2,0.3,0.4,0.5,0.6,0.7,0.8,0.9,2,3,4,5,6,7,8,9], "labels": false, "domain": false, "title": null, "tickSize": -4}},
            "text": {"field": "t"}
          }
        }
      ],
      "resolve": {"axis": {"x": "independent", "y": "independent"}}
    }
  ]
}
